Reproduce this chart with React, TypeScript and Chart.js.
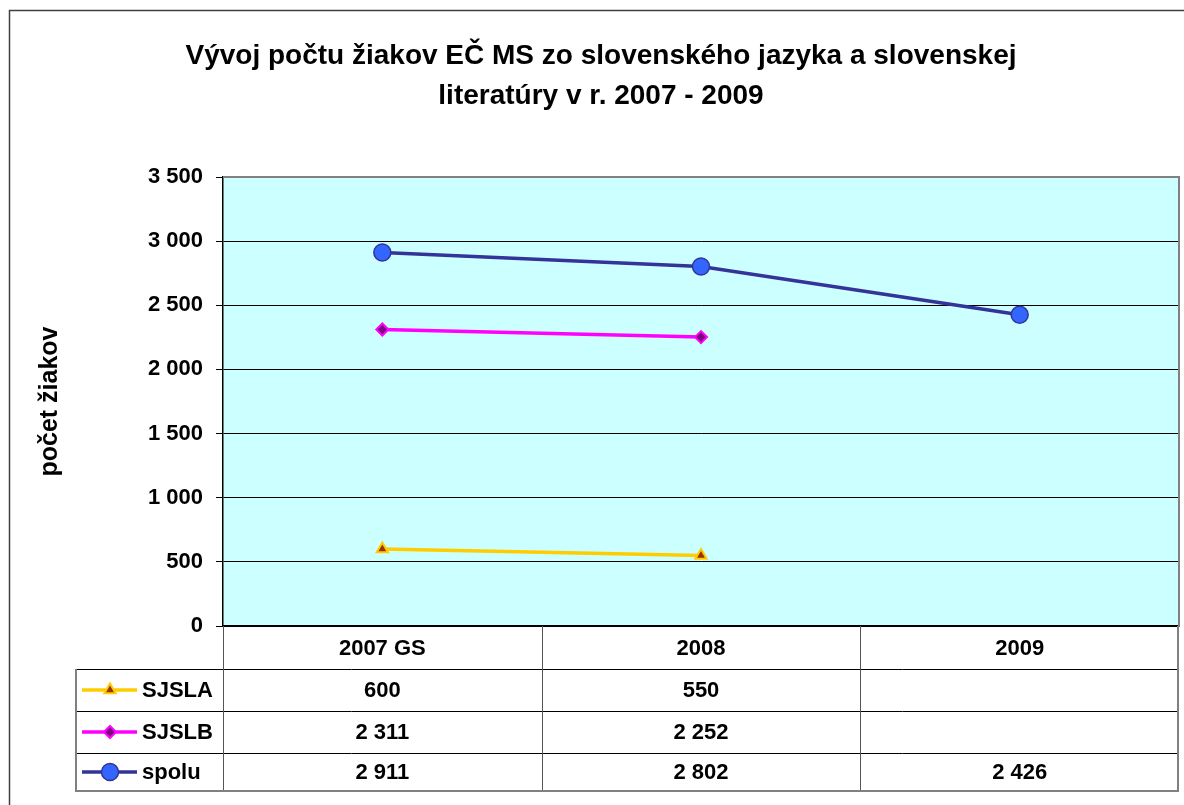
import React, { useEffect, useRef } from "react";
import { Chart, registerables } from "chart.js";
import { drawPoint } from "chart.js/helpers";

Chart.register(...registerables);

const categories = ["2007 GS", "2008", "2009"];
const sjsla: (number | null)[] = [600, 550, null];
const sjslb: (number | null)[] = [2311, 2252, null];
const spolu: (number | null)[] = [2911, 2802, 2426];
const titleLines = ["Vývoj počtu žiakov EČ MS zo slovenského jazyka a slovenskej", "literatúry v r. 2007 - 2009"];
const yTitle = "počet žiakov";
const yMin = 0;
const yMax = 3500;
const yStep = 500;

const FONT = "'Liberation Sans', Arial, sans-serif";

const fmt = (v: number | null) =>
  v == null ? "" : String(v).replace(/\B(?=(\d{3})+(?!\d))/g, " ");

const series = [
  { label: "SJSLA", data: sjsla, line: "#FFCC00", fill: "#993300", border: "#FFCC00", style: "triangle", radius: 6.5, bw: 2 },
  { label: "SJSLB", data: sjslb, line: "#FF00FF", fill: "#800080", border: "#FF00FF", style: "rectRot", radius: 6, bw: 2 },
  { label: "spolu", data: spolu, line: "#333399", fill: "#3366FF", border: "#333399", style: "circle", radius: 8.5, bw: 1.5 },
];

const W = 1184;
const H = 805;

const bgPlugin = {
  id: "bgPlugin",
  beforeDraw(chart: any) {
    const { ctx, chartArea: a } = chart;
    ctx.save();
    ctx.fillStyle = "#FFFFFF";
    ctx.fillRect(0, 0, chart.width, chart.height);
    ctx.fillStyle = "#CCFFFF";
    ctx.fillRect(a.left, a.top, a.right - a.left, a.bottom - a.top);
    ctx.strokeStyle = "#404040";
    ctx.lineWidth = 1.5;
    ctx.beginPath();
    ctx.moveTo(9.5, chart.height + 5);
    ctx.lineTo(9.5, 10.5);
    ctx.lineTo(chart.width + 5, 10.5);
    ctx.stroke();
    ctx.fillStyle = "#000";
    ctx.font = `bold 28px ${FONT}`;
    ctx.textAlign = "center";
    ctx.textBaseline = "middle";
    titleLines.forEach((t, i) => ctx.fillText(t, 601, 56 + i * 40));
    ctx.restore();
  },
  beforeDatasetsDraw(chart: any) {
    const { ctx, chartArea: a } = chart;
    ctx.save();
    ctx.strokeStyle = "#808080";
    ctx.lineWidth = 2;
    ctx.beginPath();
    ctx.moveTo(a.left, a.top);
    ctx.lineTo(a.right, a.top);
    ctx.lineTo(a.right, a.bottom);
    ctx.stroke();
    ctx.restore();
  },
  afterDraw(chart: any) {
    const { ctx, chartArea: a } = chart;
    const n = categories.length;
    const colW = (a.right - a.left) / n;
    const tableLeft = 76;
    const rowBottoms = [669, 711, 753, 791];
    const top = a.bottom;
    const bottom = rowBottoms[rowBottoms.length - 1];
    const right = a.right - 1;
    ctx.save();
    ctx.lineWidth = 1;
    ctx.strokeStyle = "#000";
    for (let r = 0; r < rowBottoms.length - 1; r++) {
      const y = Math.round(rowBottoms[r]) + 0.5;
      ctx.beginPath();
      ctx.moveTo(tableLeft, y);
      ctx.lineTo(right, y);
      ctx.stroke();
    }
    ctx.strokeStyle = "#555";
    for (let i = 1; i < n; i++) {
      const x = Math.round(a.left + i * colW) + 0.5;
      ctx.beginPath();
      ctx.moveTo(x, top);
      ctx.lineTo(x, bottom);
      ctx.stroke();
    }
    ctx.beginPath();
    ctx.moveTo(a.left + 0.5, top);
    ctx.lineTo(a.left + 0.5, bottom);
    ctx.stroke();
    ctx.strokeStyle = "#808080";
    ctx.lineWidth = 2;
    ctx.beginPath();
    ctx.moveTo(tableLeft, rowBottoms[0]);
    ctx.lineTo(tableLeft, bottom);
    ctx.lineTo(right, bottom);
    ctx.lineTo(right, top);
    ctx.stroke();

    ctx.fillStyle = "#000";
    ctx.font = `bold 22px ${FONT}`;
    ctx.textBaseline = "middle";
    series.forEach((s, r) => {
      const y0 = rowBottoms[r];
      const y1 = rowBottoms[r + 1];
      const cy = (y0 + y1) / 2;
      ctx.strokeStyle = s.line;
      ctx.lineWidth = 3.5;
      ctx.beginPath();
      ctx.moveTo(82, cy);
      ctx.lineTo(137, cy);
      ctx.stroke();
      ctx.fillStyle = s.fill;
      ctx.strokeStyle = s.border;
      ctx.lineWidth = s.bw;
      drawPoint(ctx, { pointStyle: s.style, radius: s.radius, rotation: 0, borderWidth: s.bw } as any, 110, cy);
      ctx.fillStyle = "#000";
      ctx.textAlign = "left";
      ctx.fillText(s.label, 142, cy + 1);
      ctx.textAlign = "center";
      s.data.forEach((v, i) => {
        if (v == null) return;
        const cx = a.left + (i + 0.5) * colW;
        ctx.fillText(fmt(v), cx, cy + 1);
      });
    });
    ctx.restore();
  },
};

export default function App() {
  const ref = useRef<HTMLCanvasElement>(null);
  useEffect(() => {
    if (!ref.current) return;
    const chart = new Chart(ref.current, {
      type: "line",
      data: {
        labels: categories,
        datasets: series.map((s) => ({
          label: s.label,
          data: s.data,
          borderColor: s.line,
          borderWidth: 3.5,
          backgroundColor: s.fill,
          pointBackgroundColor: s.fill,
          pointBorderColor: s.border,
          pointBorderWidth: s.bw,
          pointStyle: s.style as any,
          pointRadius: s.radius,
          tension: 0,
          spanGaps: false,
        })),
      },
      options: {
        responsive: false,
        animation: false,
        layout: { autoPadding: false, padding: { left: 0, top: 177, right: 5, bottom: 0 } },
        plugins: { legend: { display: false }, tooltip: { enabled: false }, title: { display: false } },
        scales: {
          x: {
            type: "category",
            offset: true,
            grid: { display: false, drawTicks: false },
            border: { display: true, color: "#000", width: 1.5 },
            ticks: { color: "#000", font: { family: FONT, size: 22, weight: "bold" }, padding: 10, maxRotation: 0, autoSkip: false },
            afterFit(s: any) { s.height = H - 626; s.paddingLeft = 0; s.paddingRight = 0; },
          },
          y: {
            min: yMin,
            max: yMax,
            ticks: { stepSize: yStep, color: "#000", font: { family: FONT, size: 22, weight: "bold" }, padding: 13, callback: (v: any) => fmt(Number(v)) },
            grid: {
              color: (c: any) => (c.tick && c.tick.value === yMax ? "#808080" : "#000"),
              tickColor: "#000",
              tickLength: 7,
              lineWidth: 1,
            },
            border: { display: true, color: "#000", width: 1.5 },
            title: { display: true, text: yTitle, color: "#000", font: { family: FONT, size: 25, weight: "bold" }, padding: { top: 35, bottom: 0 } },
            afterFit(s: any) { s.width = 223; s.paddingTop = 0; s.paddingBottom = 0; },
          },
        },
      },
      plugins: [bgPlugin],
    });
    return () => chart.destroy();
  }, []);
  return (
    <div style={{ position: "absolute", left: 0, top: 0, width: W, height: H }}>
      <canvas ref={ref} width={W} height={H} style={{ display: "block" }} />
    </div>
  );
}
